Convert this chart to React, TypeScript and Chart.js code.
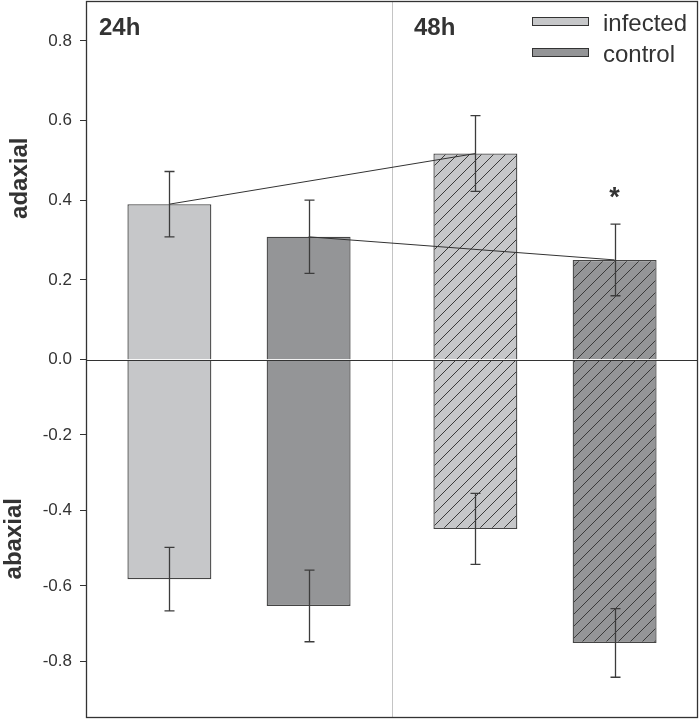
import React, { useEffect, useRef } from 'react';
import { Chart, registerables } from 'chart.js';

Chart.register(...registerables);

const categories = ['24h', '48h'];
const seriesNames = ['infected', 'control'];
const sideLabels = ['adaxial', 'abaxial'];

const infectedAdaxial = [0.39, 0.517];
const infectedAdaxialErr = [0.082, 0.095];
const controlAdaxial = [0.308, 0.25];
const controlAdaxialErr = [0.092, 0.09];
const infectedAbaxial = [-0.582, -0.449];
const infectedAbaxialErr = [0.084, 0.094];
const controlAbaxial = [-0.653, -0.751];
const controlAbaxialErr = [0.095, 0.091];
const controlMarks = ['', '*'];

const topTicks = [0, 0.2, 0.4, 0.6, 0.8];
const bottomTicks = [-0.8, -0.6, -0.4, -0.2];
const topRange = [0, 0.9];
const bottomRange = [-0.95, 0];

const INFECTED = '#c6c7c9';
const CONTROL = '#949597';
const INK = '#333333';
const FONT = "'Liberation Sans', Arial, sans-serif";

function hatch(base: string): any {
  const s = 12;
  const c = document.createElement('canvas');
  c.width = s;
  c.height = s;
  const g = c.getContext('2d');
  if (!g) return base;
  g.fillStyle = base;
  g.fillRect(0, 0, s, s);
  g.strokeStyle = '#3a3a3a';
  g.lineWidth = 1;
  g.beginPath();
  g.moveTo(0, s);
  g.lineTo(s, 0);
  g.moveTo(-s / 2, s / 2);
  g.lineTo(s / 2, -s / 2);
  g.moveTo(s / 2, s * 1.5);
  g.lineTo(s * 1.5, s / 2);
  g.stroke();
  return g.createPattern(c, 'repeat') || base;
}

const errorSets = [infectedAdaxialErr, controlAdaxialErr, infectedAbaxialErr, controlAbaxialErr];

const decor = {
  id: 'decor',
  beforeDatasetsDraw(chart: any) {
    const { ctx, chartArea: a, scales } = chart;
    const x = scales.x;
    const mid = Math.round((x.getPixelForValue(0) + x.getPixelForValue(1)) / 2) + 0.5;
    ctx.save();
    ctx.strokeStyle = '#c4c4c4';
    ctx.lineWidth = 1;
    ctx.beginPath();
    ctx.moveTo(mid, a.top);
    ctx.lineTo(mid, a.bottom);
    ctx.stroke();
    ctx.restore();
  },
  afterDatasetsDraw(chart: any) {
    const { ctx, chartArea: a, scales } = chart;
    const yTop = scales.yTop;
    ctx.save();
    // zero line
    const z = Math.round(yTop.getPixelForValue(0)) + 0.5;
    ctx.strokeStyle = INK;
    ctx.lineWidth = 1;
    ctx.beginPath();
    ctx.moveTo(a.left, z);
    ctx.lineTo(a.right, z);
    ctx.stroke();

    // connecting lines between time points (adaxial)
    [0, 1].forEach((di) => {
      const els = chart.getDatasetMeta(di).data;
      ctx.beginPath();
      ctx.moveTo(els[0].x, els[0].y);
      for (let j = 1; j < els.length; j++) ctx.lineTo(els[j].x, els[j].y);
      ctx.strokeStyle = INK;
      ctx.lineWidth = 1;
      ctx.stroke();
    });

    // error bars
    chart.data.datasets.forEach((ds: any, di: number) => {
      const meta = chart.getDatasetMeta(di);
      const sc = scales[ds.yAxisID];
      meta.data.forEach((el: any, j: number) => {
        const v = ds.data[j];
        const e = errorSets[di][j];
        const y1 = sc.getPixelForValue(v + e);
        const y2 = sc.getPixelForValue(v - e);
        const xx = Math.round(el.x) + 0.5;
        ctx.strokeStyle = '#3c3c3c';
        ctx.lineWidth = 1.3;
        ctx.beginPath();
        ctx.moveTo(xx, y1);
        ctx.lineTo(xx, y2);
        ctx.moveTo(xx - 5, y1);
        ctx.lineTo(xx + 5, y1);
        ctx.moveTo(xx - 5, y2);
        ctx.lineTo(xx + 5, y2);
        ctx.stroke();
      });
    });

    // significance marks above control adaxial
    {
      const ds = chart.data.datasets[1];
      const meta = chart.getDatasetMeta(1);
      meta.data.forEach((el: any, j: number) => {
        if (!controlMarks[j]) return;
        const yy = yTop.getPixelForValue(ds.data[j] + controlAdaxialErr[j]);
        ctx.fillStyle = INK;
        ctx.font = `bold 27px ${FONT}`;
        ctx.textAlign = 'center';
        ctx.textBaseline = 'alphabetic';
        ctx.fillText(controlMarks[j], el.x, yy - 18);
      });
    }

    // frame
    ctx.strokeStyle = INK;
    ctx.lineWidth = 1.3;
    ctx.strokeRect(a.left + 0.5, a.top + 0.5, a.right - a.left - 1, a.bottom - a.top - 1);

    // group labels
    const x = scales.x;
    const mid = (x.getPixelForValue(0) + x.getPixelForValue(1)) / 2;
    ctx.fillStyle = INK;
    ctx.font = `bold 24px ${FONT}`;
    ctx.textAlign = 'left';
    ctx.textBaseline = 'alphabetic';
    ctx.fillText(categories[0], a.left + 13, a.top + 34);
    ctx.fillText(categories[1], mid + 22, a.top + 34);

    // legend
    const fills = [INFECTED, CONTROL];
    ctx.font = `24px ${FONT}`;
    seriesNames.forEach((name, i) => {
      const by = a.top + 16 + i * 31;
      ctx.fillStyle = fills[i];
      ctx.fillRect(a.right - 166, by, 57, 9);
      ctx.strokeStyle = INK;
      ctx.lineWidth = 1;
      ctx.strokeRect(a.right - 166 + 0.5, by + 0.5, 56, 8);
      ctx.fillStyle = INK;
      ctx.fillText(name, a.right - 95, by + 13.5);
    });

    // side labels
    const yB = scales.yBottom;
    ctx.font = `bold 24px ${FONT}`;
    ctx.textAlign = 'center';
    const cTop = (yTop.top + yTop.bottom) / 2 - 2;
    const cBot = (yB.top + yB.bottom) / 2;
    ctx.save();
    ctx.translate(27, cTop);
    ctx.rotate(-Math.PI / 2);
    ctx.fillText(sideLabels[0], 0, 0);
    ctx.restore();
    ctx.save();
    ctx.translate(20.5, cBot);
    ctx.rotate(-Math.PI / 2);
    ctx.fillText(sideLabels[1], 0, 0);
    ctx.restore();

    ctx.restore();
  },
};

function fitAxis(s: any) {
  s.width = 86;
  s.paddingTop = 0;
  s.paddingBottom = 0;
  s.paddingLeft = 0;
  s.paddingRight = 0;
}

export default function App() {
  const ref = useRef<HTMLCanvasElement | null>(null);
  useEffect(() => {
    if (!ref.current) return;
    const infHatch = hatch(INFECTED);
    const ctlHatch = hatch(CONTROL);
    const common = {
      borderColor: '#444444',
      borderWidth: 1.3,
      categoryPercentage: 0.91,
      barPercentage: 0.603,
    };
    const chart = new Chart(ref.current, {
      type: 'bar',
      data: {
        labels: categories,
        datasets: [
          { ...common, label: seriesNames[0], data: infectedAdaxial, yAxisID: 'yTop', stack: 'infected', backgroundColor: [INFECTED, infHatch] },
          { ...common, label: seriesNames[1], data: controlAdaxial, yAxisID: 'yTop', stack: 'control', backgroundColor: [CONTROL, ctlHatch] },
          { ...common, label: seriesNames[0], data: infectedAbaxial, yAxisID: 'yBottom', stack: 'infected', backgroundColor: [INFECTED, infHatch] },
          { ...common, label: seriesNames[1], data: controlAbaxial, yAxisID: 'yBottom', stack: 'control', backgroundColor: [CONTROL, ctlHatch] },
        ] as any,
      },
      options: {
        responsive: false,
        animation: false,
        layout: { padding: { left: 0, right: 2, top: 1, bottom: 3 } },
        plugins: { legend: { display: false }, tooltip: { enabled: false } },
        scales: {
          x: { type: 'category', display: false, stacked: true, offset: true, grid: { display: false } },
          yBottom: {
            type: 'linear',
            position: 'left',
            stack: 'v',
            stackWeight: 1,
            weight: 0,
            min: bottomRange[0],
            max: bottomRange[1],
            afterBuildTicks: (s: any) => { s.ticks = bottomTicks.map((v) => ({ value: v })); },
            afterFit: fitAxis,
            border: { display: false },
            grid: { drawOnChartArea: false, drawTicks: true, tickLength: 6, color: INK },
            ticks: { padding: 8, color: INK, font: { family: FONT, size: 17 }, callback: (v: any) => Number(v).toFixed(1) },
          },
          yTop: {
            type: 'linear',
            position: 'left',
            stack: 'v',
            stackWeight: 1,
            weight: 1,
            min: topRange[0],
            max: topRange[1],
            afterBuildTicks: (s: any) => { s.ticks = topTicks.map((v) => ({ value: v })); },
            afterFit: fitAxis,
            border: { display: false },
            grid: { drawOnChartArea: false, drawTicks: true, tickLength: 6, color: INK },
            ticks: { padding: 8, color: INK, font: { family: FONT, size: 17 }, callback: (v: any) => Number(v).toFixed(1) },
          },
        } as any,
      },
      plugins: [decor],
    });
    return () => chart.destroy();
  }, []);
  return (
    <div style={{ position: 'absolute', left: 0, top: 0, width: 700, height: 721, background: '#fff' }}>
      <canvas ref={ref} width={700} height={721} />
    </div>
  );
}
